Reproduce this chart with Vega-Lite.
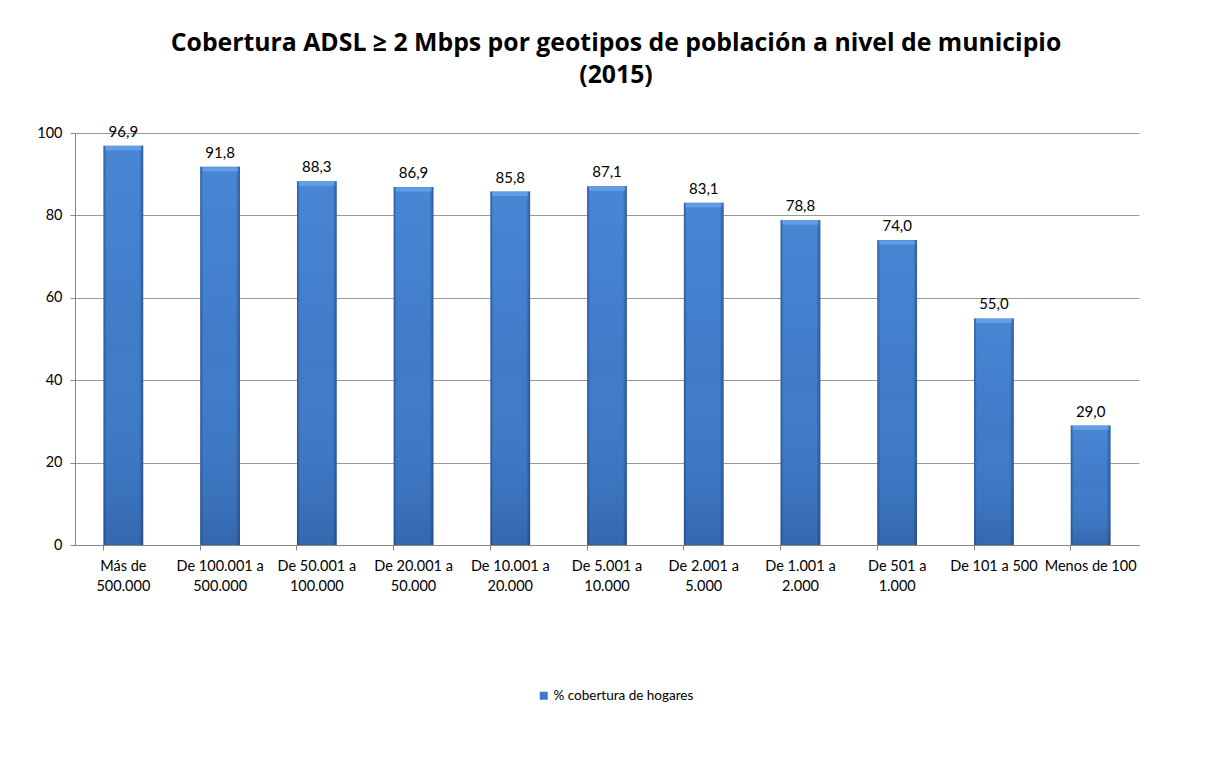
{
  "$schema": "https://vega.github.io/schema/vega-lite/v6.json",
  "width": 1064,
  "height": 412,
  "autosize": {"type": "none"},
  "padding": {"left": 75, "top": 133, "right": 75, "bottom": 233},
  "background": "white",
  "config": {
    "locale": {"number": {"decimal": ",", "thousands": ".", "grouping": [3], "currency": ["", " €"]}},
    "view": {"stroke": null},
    "font": "Lato"
  },
  "title": {
    "text": ["Cobertura ADSL ≥ 2 Mbps por geotipos de población a nivel de municipio", "(2015)"],
    "font": "Open Sans",
    "fontSize": 24.8,
    "fontWeight": "bold",
    "color": "#000000",
    "anchor": "middle",
    "offset": 37,
    "lineHeight": 32,
    "dx": 9
  },
  "data": {
    "values": [
      {"geotipo": "Más de 500.000", "cobertura": 96.9},
      {"geotipo": "De 100.001 a 500.000", "cobertura": 91.8},
      {"geotipo": "De 50.001 a 100.000", "cobertura": 88.3},
      {"geotipo": "De 20.001 a 50.000", "cobertura": 86.9},
      {"geotipo": "De 10.001 a 20.000", "cobertura": 85.8},
      {"geotipo": "De 5.001 a 10.000", "cobertura": 87.1},
      {"geotipo": "De 2.001 a 5.000", "cobertura": 83.1},
      {"geotipo": "De 1.001 a 2.000", "cobertura": 78.8},
      {"geotipo": "De 501 a 1.000", "cobertura": 74.0},
      {"geotipo": "De 101 a 500", "cobertura": 55.0},
      {"geotipo": "Menos de 100", "cobertura": 29.0}
    ]
  },
  "encoding": {
    "x": {
      "field": "geotipo",
      "type": "nominal",
      "sort": null,
      "scale": {"paddingInner": 0.59, "paddingOuter": 0.295},
      "axis": {
        "title": null,
        "labelAngle": 0,
        "labelFont": "Lato",
        "labelFontSize": 14.5,
        "labelColor": "#000000",
        "labelLineHeight": 20,
        "labelPadding": 9,
        "labelLimit": 200,
        "labelExpr": "indexof(datum.label, 'De 101') == 0 || indexof(datum.label, 'Menos') == 0 ? datum.label : [substring(datum.label, 0, lastindexof(datum.label, ' ')), substring(datum.label, lastindexof(datum.label, ' ') + 1)]",
        "bandPosition": 0,
        "tickSize": 5,
        "tickColor": "#868686",
        "domainColor": "#868686",
        "grid": false
      }
    },
    "y": {
      "field": "cobertura",
      "type": "quantitative",
      "scale": {"domain": [0, 100], "nice": false},
      "axis": {
        "title": null,
        "values": [0, 20, 40, 60, 80, 100],
        "labelFont": "Lato",
        "labelFontSize": 14.5,
        "labelColor": "#000000",
        "labelPadding": 8,
        "tickSize": 5,
        "tickColor": "#868686",
        "domainColor": "#868686",
        "gridColor": "#9a9a9a",
        "gridWidth": 1
      }
    }
  },
  "layer": [
    {
      "mark": {"type": "bar"},
      "encoding": {
        "color": {
          "datum": "% cobertura de hogares",
          "scale": {"range": ["#3f7bc7"]},
          "legend": {
            "title": null,
            "orient": "none",
            "legendX": 462,
            "legendY": 556,
            "padding": 0,
            "symbolType": "square",
            "symbolSize": 64,
            "symbolStrokeWidth": 0,
            "labelFont": "Lato",
            "labelFontSize": 13.5,
            "labelColor": "#000000",
            "labelOffset": 3
          }
        }
      }
    },
    {
      "mark": {
        "type": "bar",
        "color": {
          "gradient": "linear",
          "x1": 0, "y1": 0, "x2": 0, "y2": 1,
          "stops": [
            {"offset": 0, "color": "rgba(90,155,235,0.35)"},
            {"offset": 0.5, "color": "rgba(90,155,235,0)"},
            {"offset": 1, "color": "rgba(20,45,100,0.25)"}
          ]
        }
      }
    },
    {
      "mark": {
        "type": "bar",
        "color": {
          "gradient": "linear",
          "x1": 0, "y1": 0, "x2": 1, "y2": 0,
          "stops": [
            {"offset": 0, "color": "rgba(15,35,80,0.45)"},
            {"offset": 0.07, "color": "rgba(15,35,80,0)"},
            {"offset": 0.9, "color": "rgba(15,35,80,0)"},
            {"offset": 1, "color": "rgba(15,35,80,0.45)"}
          ]
        }
      }
    },
    {
      "mark": {"type": "tick", "size": 36, "thickness": 4, "yOffset": 2.5, "color": "rgba(120,180,245,0.75)"},
      "encoding": {}
    },
    {
      "mark": {"type": "text", "baseline": "bottom", "dy": -6, "font": "Lato", "fontSize": 15, "color": "#000000"},
      "encoding": {
        "text": {"field": "cobertura", "type": "quantitative", "format": ".1f"}
      }
    }
  ]
}
